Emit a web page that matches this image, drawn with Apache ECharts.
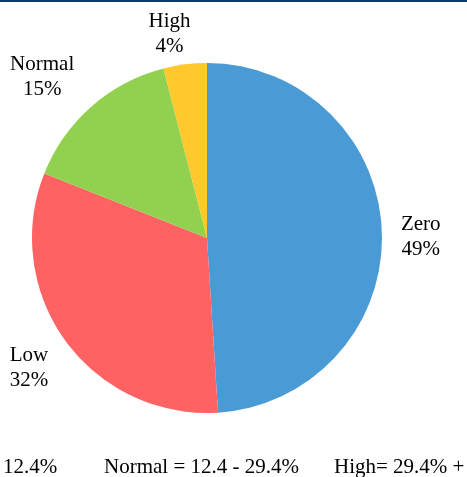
<!DOCTYPE html>
<html><head><meta charset="utf-8">
<script src="https://cdn.jsdelivr.net/npm/echarts@6/dist/echarts.min.js"></script>
<style>html,body{margin:0;padding:0;background:#fff;}#c{width:467px;height:477px;}</style>
</head><body><div id="c"></div>
<script>
const categories = ['Zero', 'Low', 'Normal', 'High'];
const values = [49, 32, 15, 4];
const colors = ['#4a9bd5', '#ff6262', '#92d050', '#ffc92d'];
const footnotes = ['12.4%', 'Normal = 12.4 - 29.4%', 'High= 29.4% +'];
const labelOffsets = [[-6, 5], [4, 15], [2, -20], [13, -11]];

const chart = echarts.init(document.getElementById('c'));
const font = '"Liberation Serif", "Times New Roman", serif';
chart.setOption({
  animation: false,
  graphic: [
    {type: 'rect', shape: {x: 0, y: 0, width: 467, height: 2}, style: {fill: '#0b3d6f'}},
    {type: 'text', left: 3, top: 457, style: {text: footnotes[0], font: '21px ' + font, fill: '#000'}},
    {type: 'text', left: 104, top: 457, style: {text: footnotes[1], font: '21px ' + font, fill: '#000'}},
    {type: 'text', left: 334, top: 457, style: {text: footnotes[2], font: '21px ' + font, fill: '#000'}}
  ],
  series: [{
    type: 'pie',
    center: [207, 238],
    radius: 175,
    startAngle: 90,
    clockwise: true,
    data: categories.map((c, i) => ({name: c, value: values[i], itemStyle: {color: colors[i]}})),
    label: {
      show: true,
      position: 'outside',
      formatter: p => p.name + '\n' + p.value + '%',
      fontFamily: font,
      fontSize: 21,
      lineHeight: 25,
      color: '#000',
      overflow: 'none'
    },
    labelLine: {show: false, length: 20, length2: 0},
    labelLayout: function (p) {
      const r = p.labelRect;
      const o = labelOffsets[p.dataIndex];
      return {
        x: r.x + r.width / 2 + o[0],
        y: r.y + r.height / 2 + o[1],
        align: 'center',
        verticalAlign: 'middle'
      };
    }
  }]
});
</script></body></html>
